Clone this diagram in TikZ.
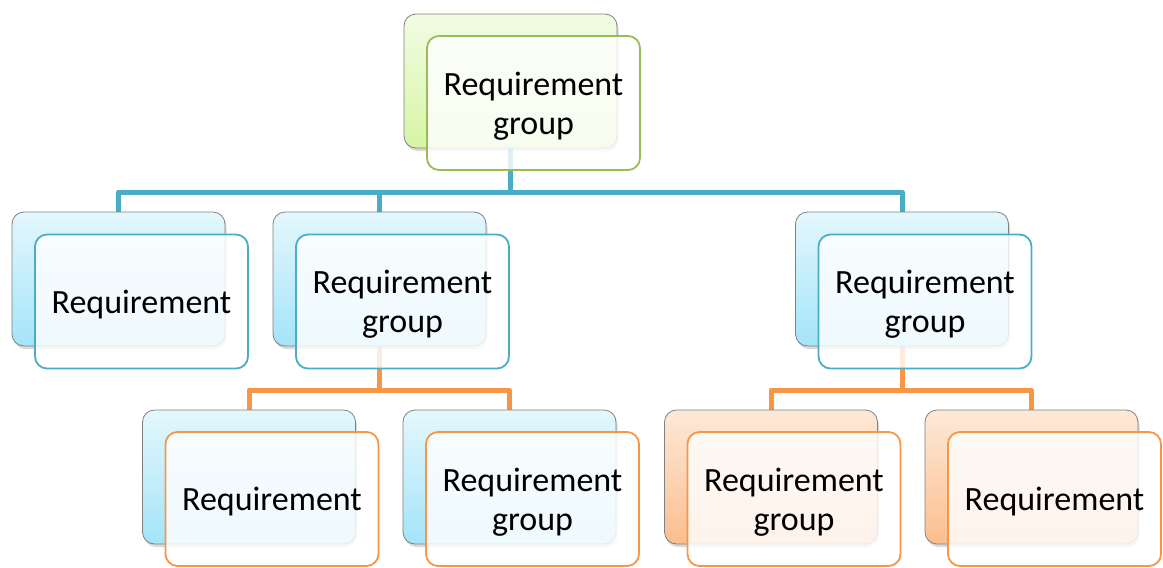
\documentclass[tikz,border=0pt]{standalone}
\usepackage{fontspec}
\setmainfont{Carlito}
\usetikzlibrary{shadows,backgrounds}

\definecolor{tealline}{HTML}{4BACC6}
\definecolor{orangeline}{HTML}{F79646}
\definecolor{greenline}{HTML}{9BBB59}
\definecolor{greentop}{HTML}{F2FCE4}
\definecolor{greenbot}{HTML}{D6F5A4}
\definecolor{bluetop}{HTML}{E4F7FD}
\definecolor{bluebot}{HTML}{A4E4F9}
\definecolor{orangetop}{HTML}{FDE9D8}
\definecolor{orangebot}{HTML}{FBBE8E}

\tikzset{
  card/.style={rounded corners=12pt, minimum width=213pt, minimum height=134pt,
    inner sep=0pt},
  backcard/.style 2 args={card, draw=black!50, line width=0.8pt,
    top color=#1, bottom color=#2,
    drop shadow={opacity=0.3, shadow xshift=1.5pt, shadow yshift=-3pt}},
  greenback/.style={backcard={greentop}{greenbot}},
  blueback/.style={backcard={bluetop}{bluebot}},
  orangeback/.style={backcard={orangetop}{orangebot}},
  frontcard/.style={card, draw=#1, line width=1.8pt, fill=white, fill opacity=0.82},
  cardtext/.style={inner sep=0pt, align=center, font=\fontsize{34}{39}\selectfont},
  link/.style={line width=5pt, line join=round, line cap=round, draw=#1}
}

\begin{document}
\begin{tikzpicture}[x=1pt,y=-1pt]
\useasboundingbox (0,0) rectangle (1163,568);

% root
\node[greenback] (b0) at (510.5,81) {};
\node[frontcard=greenline] (f0) at (533.5,103) {};
\node[cardtext] (t0) at ([yshift=-3pt]f0.center) {Requirement\\group};

% second level
\node[blueback] (b1) at (118.5,279) {};
\node[frontcard=tealline] (f1) at (141.5,301.5) {};
\node[cardtext] (t1) at ([yshift=-3pt]f1.center) {Requirement};
\node[blueback] (b2) at (379.5,279) {};
\node[frontcard=tealline] (f2) at (402.5,301.5) {};
\node[cardtext] (t2) at ([yshift=-3pt]f2.center) {Requirement\\group};
\node[blueback] (b3) at (902,279) {};
\node[frontcard=tealline] (f3) at (925,301.5) {};
\node[cardtext] (t3) at ([yshift=-3pt]f3.center) {Requirement\\group};

% third level
\node[blueback] (b4) at (249,477) {};
\node[frontcard=orangeline] (f4) at (272,499) {};
\node[cardtext] (t4) at ([yshift=-3pt]f4.center) {Requirement};
\node[blueback] (b5) at (509.5,477) {};
\node[frontcard=orangeline] (f5) at (532.5,499) {};
\node[cardtext] (t5) at ([yshift=-3pt]f5.center) {Requirement\\group};
\node[orangeback] (b6) at (771,477) {};
\node[frontcard=orangeline] (f6) at (794,499) {};
\node[cardtext] (t6) at ([yshift=-3pt]f6.center) {Requirement\\group};
\node[orangeback] (b7) at (1031.5,477) {};
\node[frontcard=orangeline] (f7) at (1054.5,499) {};
\node[cardtext] (t7) at ([yshift=-3pt]f7.center) {Requirement};

% connectors, kept beneath the cards
\begin{scope}[on background layer]
  \coordinate (j0) at (510.5,192);
  \coordinate (j2) at (379.5,390);
  \coordinate (j3) at (902,390);
  \draw[link=tealline] (b0.south) -- (j0);
  \draw[link=tealline] (b1.north) |- (j0) -| (b3.north);
  \draw[link=tealline] (j0) -| (b2.north);
  \draw[link=orangeline] (b2.south) -- (j2);
  \draw[link=orangeline] (b4.north) |- (j2) -| (b5.north);
  \draw[link=orangeline] (b3.south) -- (j3);
  \draw[link=orangeline] (b6.north) |- (j3) -| (b7.north);
\end{scope}
\end{tikzpicture}
\end{document}
